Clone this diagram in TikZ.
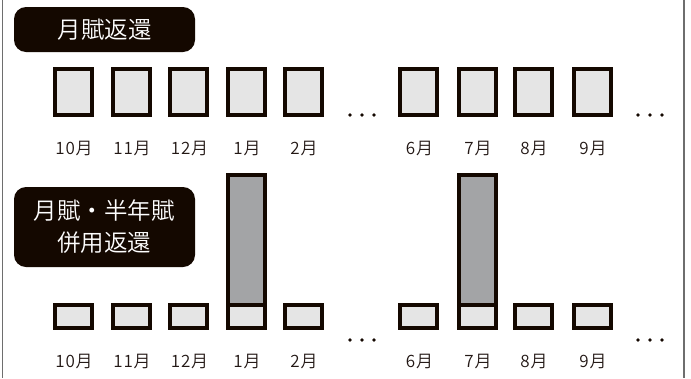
\documentclass[tikz,border=0pt]{standalone}
\usepackage{fontspec}
\setmainfont{Noto Sans CJK JP DemiLight}
\usetikzlibrary{positioning}
\definecolor{ink}{HTML}{140800}
\definecolor{lab}{HTML}{231815}
\definecolor{light}{HTML}{E5E5E5}
\definecolor{mid}{HTML}{A3A4A6}
\definecolor{frame}{HTML}{6E6E6E}
\tikzset{
  titlebox/.style={fill=ink, rounded corners=12pt, inner sep=0pt, text=white, font=\fontsize{23.5}{32}\selectfont, align=center},
  bigbox/.style={draw=ink, fill=light, line width=4pt, minimum width=37pt, minimum height=46pt, inner sep=0pt},
  smallbox/.style={draw=ink, fill=light, line width=4pt, minimum width=37pt, minimum height=23pt, inner sep=0pt},
  tallbar/.style={draw=ink, fill=mid, line width=4pt, minimum width=37pt, minimum height=130pt, inner sep=0pt},
  monthlab/.style={text=lab, font=\fontsize{17}{18}\selectfont\addfontfeature{LetterSpace=5}, inner sep=0pt},
  dotmark/.style={circle, fill=ink, minimum size=3.6pt, inner sep=0pt},
}
\begin{document}
\begin{tikzpicture}[x=1pt,y=-1pt]
\useasboundingbox (0,0) rectangle (691,378);
\fill[white] (0,0) rectangle (691,378);
\draw[frame, line width=1.2pt] (2.5,0) -- (2.5,378);
\draw[frame, line width=1.2pt] (684,0) -- (684,378);
% title boxes
\node[titlebox, minimum width=181pt, minimum height=45pt] (ta) at (104.5,29.5) {\raisebox{-1.5pt}{月賦返還}};
\node[titlebox, minimum width=181pt, minimum height=80pt] (tb) at (104.5,227) {月賦・半年賦\\併用返還};
% top row
\foreach \n/\cx/\m in {1/73/10月,2/131/11月,3/188.5/12月,4/246/1月,5/303/2月,6/418.5/6月,7/477/7月,8/533/8月,9/592/9月}{
  \node[bigbox] (a\n) at (\cx,92) {};
  \node[monthlab] (la\n) at (\cx+1,149) {\m};
}
% bottom row
\node[tallbar] (h4) at (246,240) {};
\node[tallbar] (h7) at (477,240) {};
\foreach \n/\cx/\m in {1/73/10月,2/131/11月,3/188.5/12月,4/246/1月,5/303/2月,6/418.5/6月,7/477/7月,8/533/8月,9/592/9月}{
  \node[smallbox] (b\n) at (\cx,316.5) {};
  \node[monthlab] (lb\n) at (\cx+1,362) {\m};
}
% dots
\foreach \r/\yy in {a/115,b/340}{
  \foreach \k/\xx in {1/350,2/362,3/374,4/638,5/650,6/662}{
    \node[dotmark] (d\r\k) at (\xx,\yy) {};
  }
}
\end{tikzpicture}
\end{document}
